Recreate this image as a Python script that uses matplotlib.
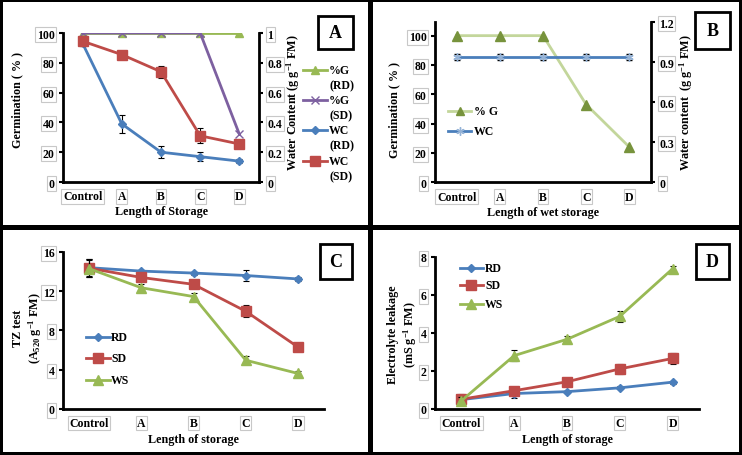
import matplotlib
matplotlib.use("Agg")
import matplotlib.pyplot as plt
from matplotlib.patches import Rectangle
from matplotlib.lines import Line2D
import numpy as np

plt.rcParams['font.family'] = ['Liberation Serif', 'DejaVu Serif']
plt.rcParams['font.weight'] = 'bold'
plt.rcParams['mathtext.fontset'] = 'custom'
plt.rcParams['mathtext.rm'] = 'Liberation Serif:bold'
plt.rcParams['mathtext.it'] = 'Liberation Serif:bold'
plt.rcParams['mathtext.bf'] = 'Liberation Serif:bold'
plt.rcParams['mathtext.default'] = 'rm'

# ---------------- data ----------------
categories = ["Control", "A", "B", "C", "D"]

# Panel A
a_germ_rd = [100, 100, 100, 100, 100]
a_germ_sd = [100, 100, 100, 100, 32]
a_wc_rd = [0.93, 0.39, 0.20, 0.17, 0.14]
a_wc_rd_err = [0.02, 0.06, 0.04, 0.03, 0.015]
a_wc_sd = [0.945, 0.855, 0.74, 0.31, 0.255]
a_wc_sd_err = [0.03, 0.02, 0.04, 0.05, 0.03]

# Panel B
b_germ = [100, 100, 100, 53, 24]
b_wc = [0.94, 0.94, 0.94, 0.94, 0.94]
b_wc_err = [0.02, 0.02, 0.02, 0.02, 0.02]

# Panel C (TZ test)
c_rd = [14.4, 14.05, 13.85, 13.6, 13.25]
c_rd_err = [0.9, 0.15, 0.15, 0.6, 0.2]
c_sd = [14.35, 13.4, 12.7, 9.95, 6.3]
c_sd_err = [0.9, 0.3, 0.25, 0.6, 0.4]
c_ws = [14.3, 12.35, 11.45, 4.95, 3.6]
c_ws_err = [0.9, 0.4, 0.4, 0.4, 0.3]

# Panel D (electrolyte leakage)
d_rd = [0.48, 0.8, 0.9, 1.1, 1.4]
d_rd_err = [0.3, 0.25, 0.05, 0.08, 0.08]
d_sd = [0.5, 0.95, 1.42, 2.1, 2.65]
d_sd_err = [0.1, 0.1, 0.1, 0.25, 0.3]
d_ws = [0.42, 2.8, 3.66, 4.87, 7.38]
d_ws_err = [0.2, 0.3, 0.15, 0.3, 0.15]

# ---------------- styles ----------------
BLUE = '#4A7EBB'
RED = '#BE4B48'
GREEN = '#98B954'
PURPLE = '#7D60A0'
LGREEN = '#C3D69B'
DGREEN = '#77933C'
LBLUE = '#95B3D7'

W, H = 742, 456
fig = plt.figure(figsize=(W / 100, H / 100), dpi=100, facecolor='black')


def fx(x):
    return x / W


def fy(y):
    return 1 - y / H


def add_axes_px(x0, y0, x1, y1):
    ax = fig.add_axes([fx(x0), fy(y1), fx(x1 - x0), (y1 - y0) / H])
    ax.set_facecolor('none')
    return ax


# white panels
for (x0, y0, x1, y1) in [(3, 3, 368, 226), (373, 3, 739, 226),
                         (3, 231, 368, 453), (373, 231, 739, 453)]:
    fig.add_artist(Rectangle((fx(x0), fy(y1)), fx(x1 - x0), (y1 - y0) / H,
                             transform=fig.transFigure, facecolor='white',
                             edgecolor='none', zorder=-10))

x = np.arange(len(categories))
TICKFS = 8.5
LABFS = 8.7
TBOX = dict(boxstyle='square,pad=0.12', fc='white', ec='#c8c8c8', lw=0.8)


def box_ticklabels(labels):
    for lab in labels:
        lab.set_fontweight('bold')
        lab.set_bbox(TBOX)


def style_axes(ax):
    ax.set_xlim(-0.5, len(categories) - 0.5)
    ax.set_xticks(x)
    ax.set_xticklabels(categories, fontsize=TICKFS, fontweight='bold')
    ax.tick_params(axis='x', length=0, pad=6)
    ax.tick_params(axis='y', length=3, width=1.5, direction='out', pad=3,
                   labelsize=TICKFS)
    box_ticklabels(ax.get_xticklabels())
    box_ticklabels(ax.get_yticklabels())
    ax.spines['top'].set_visible(False)
    ax.spines['right'].set_visible(False)
    for s in ['left', 'bottom']:
        ax.spines[s].set_linewidth(2)


def style_twin(ax2, ticks, labels):
    ax2.set_facecolor('none')
    ax2.set_yticks(ticks)
    ax2.set_yticklabels(labels, fontsize=TICKFS, fontweight='bold')
    ax2.tick_params(axis='y', length=3, width=1.5, direction='out', pad=3)
    box_ticklabels(ax2.get_yticklabels())
    for s in ['top', 'left', 'bottom']:
        ax2.spines[s].set_visible(False)
    ax2.spines['right'].set_linewidth(2)


def box_label(x0, y0, x1, y1, txt):
    fig.add_artist(Rectangle((fx(x0), fy(y1)), fx(x1 - x0), (y1 - y0) / H,
                             transform=fig.transFigure, facecolor='white',
                             edgecolor='black', lw=2, zorder=5))
    fig.text(fx((x0 + x1) / 2), fy((y0 + y1) / 2), txt, ha='center', va='center',
             fontsize=13, fontweight='bold', zorder=6)


def legend_entry(x0, x1, y, color, marker, ms, label, tx, mfc=None, lw=2, mew=1,
                 two_line=False):
    ln = Line2D([fx(x0), fx((x0 + x1) / 2), fx(x1)], [fy(y)] * 3,
                transform=fig.transFigure, color=color, lw=lw, marker=marker,
                markersize=ms, markevery=[1],
                markerfacecolor=mfc if mfc else color,
                markeredgecolor=mfc if mfc else color, mew=mew)
    fig.add_artist(ln)
    if two_line:
        fig.text(fx(tx), fy(y - 6), label, ha='left', va='top',
                 fontsize=8.5, fontweight='bold', linespacing=1.4)
    else:
        fig.text(fx(tx), fy(y), label, ha='left', va='center',
                 fontsize=8.5, fontweight='bold')


ekw = dict(ecolor='black', elinewidth=0.8, capsize=2, capthick=0.8)

# ---------------- Panel A ----------------
axA = add_axes_px(63, 34, 259, 183)
axA.plot(x, a_germ_rd, color=GREEN, lw=2, marker='^', ms=6, zorder=3)
axA.plot(x, a_germ_sd, color=PURPLE, lw=2, marker='x', ms=6, mew=1, zorder=3)
axA.set_ylim(0, 100)
axA.set_yticks([0, 20, 40, 60, 80, 100])
style_axes(axA)
axA2 = axA.twinx()
axA2.errorbar(x, a_wc_rd, yerr=a_wc_rd_err, color=BLUE, lw=2, marker='D', ms=4, **ekw, zorder=3)
axA2.errorbar(x, a_wc_sd, yerr=a_wc_sd_err, color=RED, lw=2, marker='s', ms=7.5, **ekw, zorder=4)
axA2.set_ylim(0, 1)
style_twin(axA2, [0, 0.2, 0.4, 0.6, 0.8, 1.0], ['0', '0.2', '0.4', '0.6', '0.8', '1'])
fig.text(fx(17), fy(100), 'Germination ( % )', rotation=90, ha='center', va='center',
         fontsize=LABFS, fontweight='bold')
fig.text(fx(293), fy(103), 'Water Content (g g$^{-1}$ FM)', rotation=90, ha='center',
         va='center', fontsize=LABFS, fontweight='bold')
fig.text(fx(162), fy(212), 'Length of Storage', ha='center', va='center',
         fontsize=LABFS, fontweight='bold')
box_label(318, 17, 353, 50, 'A')
legend_entry(303, 327, 71, GREEN, '^', 6, '%G\n(RD)', 329, two_line=True)
legend_entry(303, 327, 101, PURPLE, 'x', 6, '%G\n(SD)', 329, two_line=True)
legend_entry(303, 327, 131, BLUE, 'D', 4, 'WC\n(RD)', 329, two_line=True)
legend_entry(303, 327, 162, RED, 's', 7.5, 'WC\n(SD)', 329, two_line=True)

# ---------------- Panel B ----------------
axB = add_axes_px(435, 23.3, 651, 183.3)
axB.plot(x, b_germ, color=LGREEN, lw=2, marker='^', ms=7, mfc=DGREEN, mec=DGREEN, zorder=3)
axB.set_ylim(0, 109.1)
axB.set_yticks([0, 20, 40, 60, 80, 100])
style_axes(axB)
axB2 = axB.twinx()
axB2.errorbar(x, b_wc, yerr=b_wc_err, color=BLUE, lw=2, marker=(6, 2, 0), ms=6,
              mec=LBLUE, mew=1, **ekw, zorder=3)
axB2.set_ylim(0, 1.2)
style_twin(axB2, [0, 0.3, 0.6, 0.9, 1.2], ['0', '0.3', '0.6', '0.9', '1.2'])
fig.text(fx(394), fy(110), 'Germination ( % )', rotation=90, ha='center', va='center',
         fontsize=LABFS, fontweight='bold')
fig.text(fx(686), fy(103), 'Water content  (g g$^{-1}$ FM)', rotation=90, ha='center',
         va='center', fontsize=LABFS, fontweight='bold')
fig.text(fx(543), fy(213), 'Length of wet storage', ha='center', va='center',
         fontsize=LABFS, fontweight='bold')
box_label(695, 13, 730, 50, 'B')
legend_entry(448, 471, 112, LGREEN, '^', 6, '% G', 474, mfc=DGREEN)
legend_entry(448, 471, 132, BLUE, (6, 2, 0), 6, 'WC', 474, mfc=LBLUE)

# ---------------- Panel C ----------------
axC = add_axes_px(63, 253, 324, 409.7)
axC.errorbar(x, c_rd, yerr=c_rd_err, color=BLUE, lw=2, marker='D', ms=4, **ekw, zorder=3)
axC.errorbar(x, c_sd, yerr=c_sd_err, color=RED, lw=2, marker='s', ms=7.5, **ekw, zorder=4)
axC.errorbar(x, c_ws, yerr=c_ws_err, color=GREEN, lw=2, marker='^', ms=7, **ekw, zorder=5)
axC.set_ylim(0, 16)
axC.set_yticks([0, 4, 8, 12, 16])
style_axes(axC)
fig.text(fx(28), fy(328), 'TZ test\n(A$_{520}$ g$^{-1}$ FM)', rotation=90, ha='center',
         va='center', fontsize=LABFS, fontweight='bold', multialignment='center')
fig.text(fx(193), fy(440), 'Length of storage', ha='center', va='center',
         fontsize=LABFS, fontweight='bold')
box_label(320, 245, 352, 280, 'C')
legend_entry(86, 110, 338, BLUE, 'D', 4, 'RD', 111)
legend_entry(86, 110, 359, RED, 's', 7.5, 'SD', 111)
legend_entry(86, 110, 381, GREEN, '^', 7, 'WS', 111)

# ---------------- Panel D ----------------
axD = add_axes_px(435, 258, 699, 409.7)
axD.errorbar(x, d_rd, yerr=d_rd_err, color=BLUE, lw=2, marker='D', ms=4, **ekw, zorder=3)
axD.errorbar(x, d_sd, yerr=d_sd_err, color=RED, lw=2, marker='s', ms=7.5, **ekw, zorder=4)
axD.errorbar(x, d_ws, yerr=d_ws_err, color=GREEN, lw=2, marker='^', ms=7, **ekw, zorder=5)
axD.set_ylim(0, 8)
axD.set_yticks([0, 2, 4, 6, 8])
style_axes(axD)
fig.text(fx(403), fy(335), 'Electrolyte leakage\n(mS g$^{-1}$ FM)', rotation=90, ha='center',
         va='center', fontsize=LABFS, fontweight='bold', multialignment='center')
fig.text(fx(568), fy(440), 'Length of storage', ha='center', va='center',
         fontsize=LABFS, fontweight='bold')
box_label(696, 245, 729, 280, 'D')
legend_entry(460, 483, 269, BLUE, 'D', 4, 'RD', 485)
legend_entry(460, 483, 286, RED, 's', 7.5, 'SD', 485)
legend_entry(460, 483, 305, GREEN, '^', 7, 'WS', 485)

fig.savefig('out.png', dpi=100, facecolor='black')
